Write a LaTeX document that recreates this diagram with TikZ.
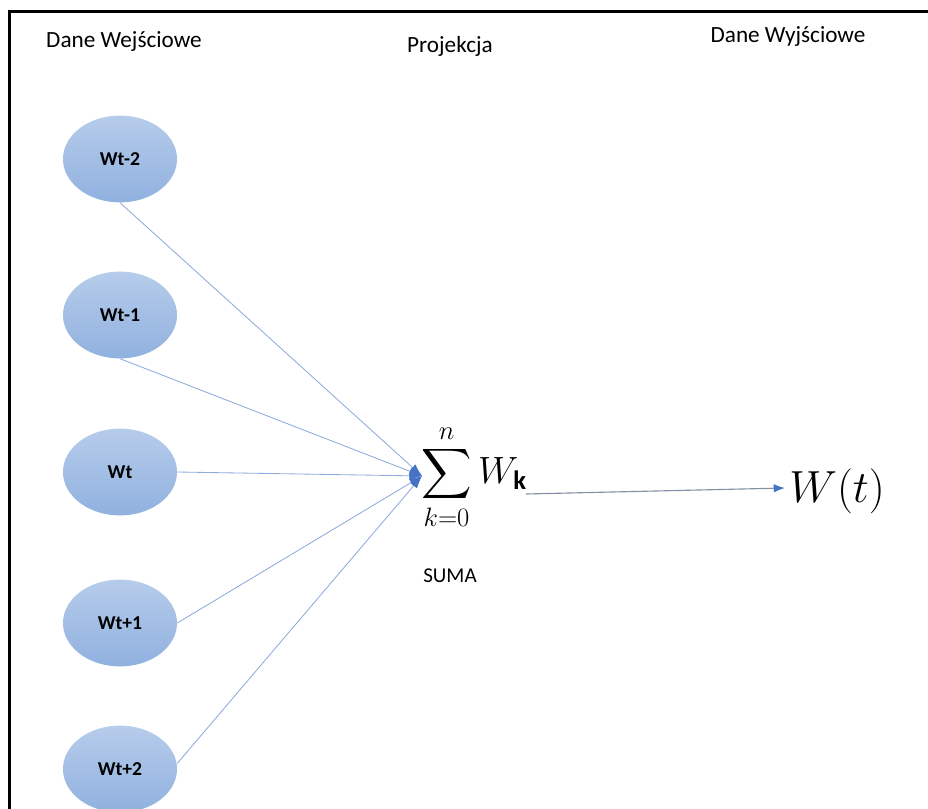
\RequirePackage{fix-cm}
\documentclass[tikz,border=0pt]{standalone}
\usepackage{exscale}
\usepackage{fontspec}
\setmainfont{Carlito}
\usetikzlibrary{shapes.geometric,arrows.meta}
\definecolor{linia}{HTML}{8FAADC}
\definecolor{grot}{HTML}{4472C4}
\definecolor{jasny}{HTML}{B6CCEB}
\definecolor{ciemny}{HTML}{90B1DF}
\tikzset{
    wezel/.style={ellipse,minimum width=2.85cm,minimum height=2.17cm,inner sep=0pt,
        top color=jasny,bottom color=ciemny,font=\fontsize{14}{16}\selectfont\bfseries},
    lacznik/.style={linia,line width=0.6pt,-{Latex[length=9pt,width=6pt,color=grot]}},
    opis/.style={font=\fontsize{16.5}{19}\selectfont,inner sep=0pt}
}
\begin{document}
\begin{tikzpicture}[x=0.025cm,y=-0.025cm]
        \useasboundingbox (0,0) rectangle (928,809);
        \draw[line width=2.1pt] (9.5,830) -- (9.5,11.5) -- (945,11.5);
        % naglowki
        \node[opis] (wej) at (124,42) {Dane Wejściowe};
        \node[opis] (proj) at (450,46) {Projekcja};
        \node[opis] (wyj) at (788,37) {Dane Wyjściowe};
        % wejscia
        \foreach \n/\t/\y in {wm2/Wt-2/159,wm1/Wt-1/315,w0/Wt/472,wp1/Wt+1/623,wp2/Wt+2/769} {
            \node[wezel] (\n) at (120,\y) {\t};
        }
        \node[inner sep=0pt,font=\fontsize{27}{32}\selectfont] (suma) at (474,477)
            {$\displaystyle\sum_{k=0}^{n} W_{\mathbf{k}}$};
        \node[font=\fontsize{15}{18}\selectfont,inner sep=0pt] (sumlab) at (450,576) {SUMA};
        \node[inner sep=0pt,anchor=west,font=\fontsize{32}{38}\selectfont] (out) at (789,491) {$W(t)$};
        \coordinate (sumin) at (422,476);
        \coordinate (sumout) at (526,494);
        \coordinate (outin) at (785,488);
        \draw[lacznik] (wm2.south) -- (sumin);
        \draw[lacznik] (wm1.south) -- (sumin);
        \draw[lacznik] (w0.east) -- (sumin);
        \draw[lacznik] (wp1.east) -- (sumin);
        \draw[lacznik] ([yshift=4pt]wp2.east) -- (sumin);
        \draw[color=gray!60!linia,line width=0.8pt,-{Latex[length=8pt,width=6pt,color=grot]}] (sumout) -- (outin);
\end{tikzpicture}
\end{document}
